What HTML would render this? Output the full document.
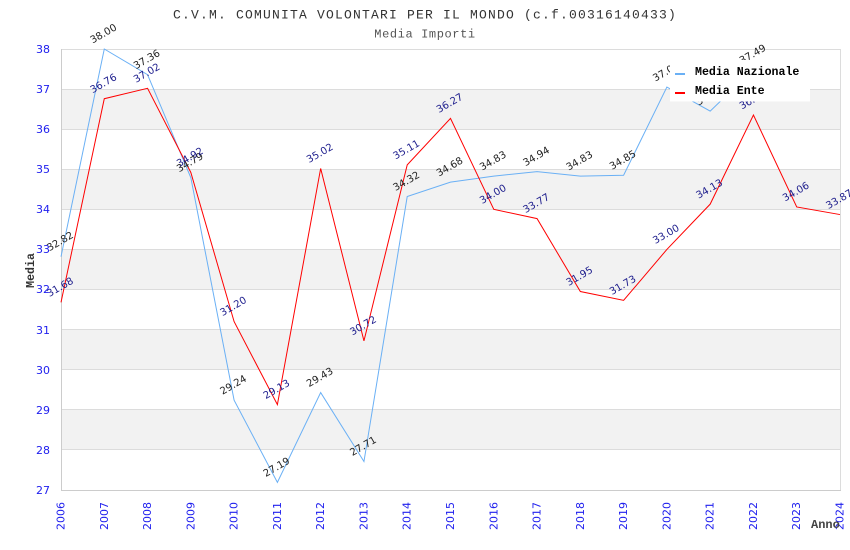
<!DOCTYPE html>
<html><head><meta charset="utf-8"><style>
html,body{margin:0;padding:0;background:#fff;}
svg{display:block;}
.t{font-family:"Liberation Mono","DejaVu Sans Mono",monospace;}
.lb{font-family:"DejaVu Sans","Liberation Sans",sans-serif;font-size:10px;}
.n{fill:#222;}
.e{fill:#1c1c8c;}
.yt{font-family:"DejaVu Sans","Liberation Sans",sans-serif;font-size:11px;fill:#2020ee;}
</style></head><body>
<svg width="850" height="550" viewBox="0 0 850 550" xmlns="http://www.w3.org/2000/svg">
<rect width="850" height="550" fill="#fff"/>
<!-- bands -->
<g fill="#f2f2f2">
<rect x="61" y="89.09" width="779" height="40.09"/>
<rect x="61" y="169.27" width="779" height="40.09"/>
<rect x="61" y="249.45" width="779" height="40.09"/>
<rect x="61" y="329.63" width="779" height="40.09"/>
<rect x="61" y="409.81" width="779" height="40.09"/>
</g>
<!-- gridlines -->
<g stroke="#dcdcdc" stroke-width="1">
<line x1="61" x2="840" y1="49.5" y2="49.5"/>
<line x1="61" x2="840" y1="89.5" y2="89.5"/>
<line x1="61" x2="840" y1="129.5" y2="129.5"/>
<line x1="61" x2="840" y1="169.5" y2="169.5"/>
<line x1="61" x2="840" y1="209.5" y2="209.5"/>
<line x1="61" x2="840" y1="249.5" y2="249.5"/>
<line x1="61" x2="840" y1="289.5" y2="289.5"/>
<line x1="61" x2="840" y1="329.5" y2="329.5"/>
<line x1="61" x2="840" y1="369.5" y2="369.5"/>
<line x1="61" x2="840" y1="409.5" y2="409.5"/>
<line x1="61" x2="840" y1="449.5" y2="449.5"/>
<line x1="840.5" x2="840.5" y1="49" y2="490"/>
</g>
<g stroke="#cccccc" stroke-width="1">
<line x1="61.5" x2="61.5" y1="49" y2="491"/>
<line x1="61" x2="841" y1="490.5" y2="490.5"/>
</g>
<!-- y ticks -->
<g class="yt" text-anchor="end">
<text x="50" y="53">38</text>
<text x="50" y="93">37</text>
<text x="50" y="133">36</text>
<text x="50" y="173">35</text>
<text x="50" y="213">34</text>
<text x="50" y="253">33</text>
<text x="50" y="293">32</text>
<text x="50" y="334">31</text>
<text x="50" y="374">30</text>
<text x="50" y="414">29</text>
<text x="50" y="454">28</text>
<text x="50" y="494">27</text>
</g>
<!-- x ticks -->
<g class="yt" text-anchor="end">
<text transform="translate(64.5,502) rotate(-90)">2006</text>
<text transform="translate(107.8,502) rotate(-90)">2007</text>
<text transform="translate(151.1,502) rotate(-90)">2008</text>
<text transform="translate(194.3,502) rotate(-90)">2009</text>
<text transform="translate(237.6,502) rotate(-90)">2010</text>
<text transform="translate(280.9,502) rotate(-90)">2011</text>
<text transform="translate(324.2,502) rotate(-90)">2012</text>
<text transform="translate(367.5,502) rotate(-90)">2013</text>
<text transform="translate(410.7,502) rotate(-90)">2014</text>
<text transform="translate(454,502) rotate(-90)">2015</text>
<text transform="translate(497.3,502) rotate(-90)">2016</text>
<text transform="translate(540.6,502) rotate(-90)">2017</text>
<text transform="translate(583.8,502) rotate(-90)">2018</text>
<text transform="translate(627.1,502) rotate(-90)">2019</text>
<text transform="translate(670.4,502) rotate(-90)">2020</text>
<text transform="translate(713.7,502) rotate(-90)">2021</text>
<text transform="translate(757,502) rotate(-90)">2022</text>
<text transform="translate(800.2,502) rotate(-90)">2023</text>
<text transform="translate(843.5,502) rotate(-90)">2024</text>
</g>
<!-- series lines -->
<polyline fill="none" stroke="#6ab0f5" stroke-width="1" points="61,256.67 104.28,49 147.56,74.66 190.83,177.69 234.11,400.19 277.39,482.37 320.67,392.57 363.95,461.53 407.22,196.53 450.5,182.1 493.78,176.09 537.06,171.68 580.34,176.09 623.61,175.28 666.89,87.09 710.17,111.1 753.45,69.45"/>
<polyline fill="none" stroke="#ff0000" stroke-width="1" points="61,302.37 104.28,98.71 147.56,88.29 190.83,172.48 234.11,321.61 277.39,404.6 320.67,168.47 363.95,340.86 407.22,164.86 450.5,118.36 493.78,209.36 537.06,218.58 580.34,291.54 623.61,300.36 666.89,249.45 710.17,204.15 753.45,115 796.73,206.95 840,214.57"/>
<!-- labels Nazionale -->
<g class="lb n" text-anchor="middle">
<text transform="translate(60,241.2) rotate(-30)" dy="0.35em">32.82</text>
<text transform="translate(103.3,33.5) rotate(-30)" dy="0.35em">38.00</text>
<text transform="translate(146.6,59.2) rotate(-30)" dy="0.35em">37.36</text>
<text transform="translate(189.8,162.2) rotate(-30)" dy="0.35em">34.79</text>
<text transform="translate(233.1,384.7) rotate(-30)" dy="0.35em">29.24</text>
<text transform="translate(276.4,466.9) rotate(-30)" dy="0.35em">27.19</text>
<text transform="translate(319.7,377.1) rotate(-30)" dy="0.35em">29.43</text>
<text transform="translate(363,446) rotate(-30)" dy="0.35em">27.71</text>
<text transform="translate(406.2,181) rotate(-30)" dy="0.35em">34.32</text>
<text transform="translate(449.5,166.6) rotate(-30)" dy="0.35em">34.68</text>
<text transform="translate(492.8,160.6) rotate(-30)" dy="0.35em">34.83</text>
<text transform="translate(536.1,156.2) rotate(-30)" dy="0.35em">34.94</text>
<text transform="translate(579.3,160.6) rotate(-30)" dy="0.35em">34.83</text>
<text transform="translate(622.6,159.8) rotate(-30)" dy="0.35em">34.85</text>
<text transform="translate(665.9,71.6) rotate(-30)" dy="0.35em">37.05</text>
<text transform="translate(709.2,95.6) rotate(-30)" dy="0.35em">36.45</text>
<text transform="translate(752.5,54) rotate(-30)" dy="0.35em">37.49</text>
</g>
<!-- labels Ente -->
<g class="lb e" text-anchor="middle">
<text transform="translate(60,286.9) rotate(-30)" dy="0.35em">31.68</text>
<text transform="translate(103.3,83.2) rotate(-30)" dy="0.35em">36.76</text>
<text transform="translate(146.6,72.8) rotate(-30)" dy="0.35em">37.02</text>
<text transform="translate(189.8,157) rotate(-30)" dy="0.35em">34.92</text>
<text transform="translate(233.1,306.1) rotate(-30)" dy="0.35em">31.20</text>
<text transform="translate(276.4,389.1) rotate(-30)" dy="0.35em">29.13</text>
<text transform="translate(319.7,153) rotate(-30)" dy="0.35em">35.02</text>
<text transform="translate(363,325.4) rotate(-30)" dy="0.35em">30.72</text>
<text transform="translate(406.2,149.4) rotate(-30)" dy="0.35em">35.11</text>
<text transform="translate(449.5,102.9) rotate(-30)" dy="0.35em">36.27</text>
<text transform="translate(492.8,193.9) rotate(-30)" dy="0.35em">34.00</text>
<text transform="translate(536.1,203.1) rotate(-30)" dy="0.35em">33.77</text>
<text transform="translate(579.3,276) rotate(-30)" dy="0.35em">31.95</text>
<text transform="translate(622.6,284.9) rotate(-30)" dy="0.35em">31.73</text>
<text transform="translate(665.9,234) rotate(-30)" dy="0.35em">33.00</text>
<text transform="translate(709.2,188.7) rotate(-30)" dy="0.35em">34.13</text>
<text transform="translate(752.5,99.5) rotate(-30)" dy="0.35em">36.35</text>
<text transform="translate(795.7,191.5) rotate(-30)" dy="0.35em">34.06</text>
<text transform="translate(839,199.1) rotate(-30)" dy="0.35em">33.87</text>
</g>
<!-- legend -->
<rect x="670" y="60" width="140" height="41.5" fill="#fff"/>
<rect x="675" y="73" width="10" height="2" fill="#6ab0f5"/>
<rect x="675" y="92" width="10" height="2" fill="#ff0000"/>
<text class="t" x="695" y="75" font-size="11.6" font-weight="bold" fill="#000">Media Nazionale</text>
<text class="t" x="695" y="94" font-size="11.6" font-weight="bold" fill="#000">Media Ente</text>
<!-- titles -->
<text class="t" x="425" y="18.5" font-size="13" letter-spacing="1.2" fill="#333" text-anchor="middle">C.V.M. COMUNITA VOLONTARI PER IL MONDO (c.f.00316140433)</text>
<text class="t" x="425" y="37.5" font-size="12" letter-spacing="0.6" fill="#555" text-anchor="middle">Media Importi</text>
<text class="t" transform="translate(34,270.5) rotate(-90)" font-size="11.6" font-weight="bold" fill="#333" text-anchor="middle">Media</text>
<text class="t" x="811" y="528" font-size="12" font-weight="bold" fill="#444">Anno</text>
</svg>
</body></html>
